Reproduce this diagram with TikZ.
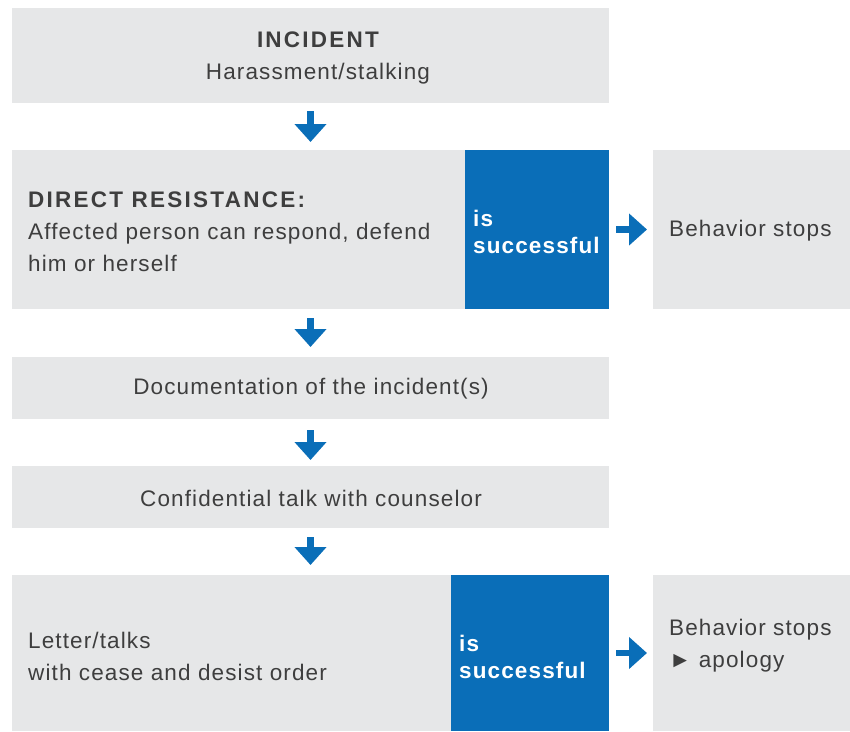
\documentclass[tikz,border=0pt]{standalone}
\usepackage{fontspec}
\setmainfont{Liberation Sans}[LetterSpace=5, BoldFeatures={LetterSpace=5}]
\newfontfamily\capsfont{Liberation Sans Bold}[LetterSpace=10]
\usetikzlibrary{arrows.meta}
\definecolor{boxgray}{HTML}{E6E7E8}
\definecolor{okblue}{HTML}{0A6EB8}
\definecolor{txtgray}{HTML}{3E3E3E}
\tikzset{
  box/.style={fill=boxgray, draw=none, rectangle, inner sep=0pt, outer sep=0pt, anchor=north west},
  okbox/.style={box, fill=okblue},
  txt/.style={text=txtgray, font=\fontsize{22.5}{32}\selectfont, inner sep=0pt},
  oktxt/.style={text=white, font=\bfseries\fontsize{22.5}{27}\selectfont, inner sep=0pt, anchor=west, align=left},
  flow/.style={draw=okblue, line width=6.5pt, -{Triangle[length=18pt,width=31pt]}}
}
\begin{document}
\begin{tikzpicture}[x=1pt,y=-1pt]
                \useasboundingbox (0,0) rectangle (850,731);

                % boxes
                \node[box, minimum width=597pt, minimum height=95pt] (incident) at (12,8) {};
                \node[box, minimum width=597pt, minimum height=159pt] (direct) at (12,150) {};
                \node[okbox, minimum width=144pt, minimum height=159pt] (ok1) at (465,150) {};
                \node[box, minimum width=197pt, minimum height=159pt] (stop1) at (653,150) {};
                \node[box, minimum width=597pt, minimum height=62pt] (docu) at (12,357) {};
                \node[box, minimum width=597pt, minimum height=62pt] (talk) at (12,466) {};
                \node[box, minimum width=597pt, minimum height=156pt] (letter) at (12,575) {};
                \node[okbox, minimum width=158pt, minimum height=156pt] (ok2) at (451,575) {};
                \node[box, minimum width=197pt, minimum height=156pt] (stop2) at (653,575) {};

                % texts
                \node[txt, align=center] (incidenttxt) at (318,58) {{\capsfont INCIDENT}\\Harassment/stalking};
                \node[txt, anchor=west, align=left] (directtxt) at (28,232) {{\capsfont DIRECT RESISTANCE:}\\Affected person can respond, defend\\him or herself};
                \node[oktxt] (ok1txt) at (473,232) {is\\successful};
                \node[txt, anchor=west] (stop1txt) at (669,231) {Behavior stops};
                \node[txt] (docutxt) at (311,389) {Documentation of the incident(s)};
                \node[txt] (talktxt) at (311,498) {Confidential talk with counselor};
                \node[txt, anchor=west, align=left] (lettertxt) at (28,656) {Letter/talks\\with cease and desist order};
                \node[oktxt] (ok2txt) at (459,657) {is\\successful};
                \node[txt, anchor=west, align=left] (stop2txt) at (669,646) {Behavior stops\\► apology};

                % arrows
                \draw[flow, shorten <=8pt, shorten >=8pt] (incident.south) -- (direct.north);
                \draw[flow, shorten <=9pt, shorten >=10pt] (direct.south) -- (docu.north);
                \draw[flow, shorten <=11pt, shorten >=6pt] (docu.south) -- (talk.north);
                \draw[flow, shorten <=9pt, shorten >=10pt] (talk.south) -- (letter.north);
                \draw[flow, shorten <=7pt, shorten >=6pt] (ok1.east) -- (stop1.west);
                \draw[flow, shorten <=7pt, shorten >=6pt] (ok2.east) -- (stop2.west);
            \end{tikzpicture}
\end{document}
